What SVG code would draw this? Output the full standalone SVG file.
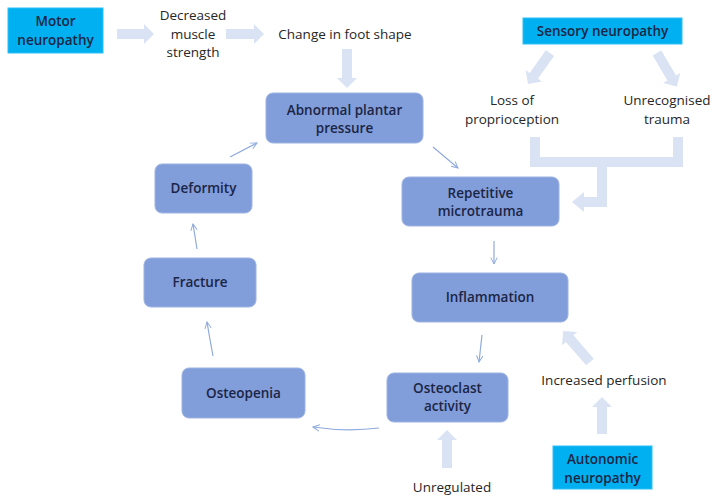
<svg xmlns="http://www.w3.org/2000/svg" width="716" height="503" viewBox="0 0 716 503">
<style>
.node rect{fill:#819DDA;stroke:#9DB3E3;stroke-width:1}
.src rect{fill:#00B0F0;stroke:#2CC0F5;stroke-width:1}
.nt{font-family:"Open Sans","Liberation Sans",sans-serif;font-size:13.5px;font-weight:600;fill:#1B2545;text-anchor:middle}
.pt{font-family:"Open Sans","Liberation Sans",sans-serif;font-size:13.5px;fill:#262626;text-anchor:middle}
.blk{fill:#DAE3F3}
.thin{fill:none;stroke:#8FAADC;stroke-width:1.2}
</style>
<defs>
<marker id="oh" viewBox="0 0 10 10" refX="9" refY="5" markerWidth="8" markerHeight="8" orient="auto" markerUnits="userSpaceOnUse">
<path d="M1,1 L9,5 L1,9" fill="none" stroke="#8FAADC" stroke-width="1.2"/>
</marker>
</defs>
<rect width="716" height="503" fill="#ffffff"/>

<g id="connectors">
<!-- block arrows -->
<polygon class="blk" transform="translate(117,34)" points="0,-5 27,-5 27,-10 37,0 27,10 27,5 0,5"/>
<polygon class="blk" transform="translate(226,34)" points="0,-5 28,-5 28,-10 38,0 28,10 28,5 0,5"/>
<polygon class="blk" transform="translate(347,49) rotate(90)" points="0,-5 29,-5 29,-10 39,0 29,10 29,5 0,5"/>
<polygon class="blk" transform="translate(550,53) rotate(125.4)" points="0,-5 28,-5 28,-10 38,0 28,10 28,5 0,5"/>
<polygon class="blk" transform="translate(657,53) rotate(59.5)" points="0,-5 29,-5 29,-10 39,0 29,10 29,5 0,5"/>
<polygon class="blk" transform="translate(590,362) rotate(229)" points="0,-5 31,-5 31,-10 41,0 31,10 31,5 0,5"/>
<polygon class="blk" transform="translate(602,434) rotate(-90)" points="0,-5 27,-5 27,-10 37,0 27,10 27,5 0,5"/>
<polygon class="blk" transform="translate(447,468) rotate(-90)" points="0,-5 28,-5 28,-10 38,0 28,10 28,5 0,5"/>
<polygon class="blk" points="530,137 540,137 540,157 673,157 673,137 683,137 683,167 607,167 607,207 584,207 584,212 572,202 584,192 584,197 597,197 597,167 530,167"/>
<!-- thin arrows -->
<path class="thin" marker-end="url(#oh)" d="M433,147 L458,168"/>
<path class="thin" marker-end="url(#oh)" d="M494,241 L494,264"/>
<path class="thin" marker-end="url(#oh)" d="M482,335 L479,362"/>
<path class="thin" marker-end="url(#oh)" d="M379,428 Q346,432 313,427"/>
<path class="thin" marker-end="url(#oh)" d="M213,356 Q210,340 207,322"/>
<path class="thin" marker-end="url(#oh)" d="M197,249 L193,224"/>
<path class="thin" marker-end="url(#oh)" d="M230,157 L257,143"/>
</g>

<g id="motor" class="src"><rect x="8" y="8" width="95" height="45"/><text class="nt" x="55.5" y="26">Motor</text><text class="nt" x="55.5" y="45">neuropathy</text></g>
<g id="decreased"><text class="pt" x="193" y="20">Decreased</text><text class="pt" x="193" y="39">muscle</text><text class="pt" x="193" y="57">strength</text></g>
<g id="change"><text class="pt" x="345" y="39">Change in foot shape</text></g>
<g id="sensory" class="src"><rect x="523" y="18" width="159" height="26"/><text class="nt" x="602.5" y="36">Sensory neuropathy</text></g>
<g id="loss"><text class="pt" x="512" y="105">Loss of</text><text class="pt" x="512" y="124">proprioception</text></g>
<g id="unrecognised"><text class="pt" x="667" y="105">Unrecognised</text><text class="pt" x="667" y="124">trauma</text></g>
<g id="abnormal" class="node"><rect x="266" y="93" width="157" height="50" rx="7"/><text class="nt" x="344.5" y="115">Abnormal plantar</text><text class="nt" x="344.5" y="133">pressure</text></g>
<g id="repetitive" class="node"><rect x="402" y="177" width="157" height="49" rx="7"/><text class="nt" x="480.5" y="198">Repetitive</text><text class="nt" x="480.5" y="216">microtrauma</text></g>
<g id="inflammation" class="node"><rect x="412" y="273" width="156" height="49" rx="7"/><text class="nt" x="490" y="302">Inflammation</text></g>
<g id="osteoclast" class="node"><rect x="387" y="373" width="121" height="49" rx="7"/><text class="nt" x="447.5" y="393">Osteoclast</text><text class="nt" x="447.5" y="411">activity</text></g>
<g id="osteopenia" class="node"><rect x="182" y="368" width="123" height="50" rx="7"/><text class="nt" x="243.5" y="398">Osteopenia</text></g>
<g id="fracture" class="node"><rect x="144" y="258" width="112" height="49" rx="7"/><text class="nt" x="200" y="287">Fracture</text></g>
<g id="deformity" class="node"><rect x="155" y="164" width="97" height="49" rx="7"/><text class="nt" x="203.5" y="193">Deformity</text></g>
<g id="perfusion"><text class="pt" x="604" y="385">Increased perfusion</text></g>
<g id="autonomic" class="src"><rect x="553" y="446" width="99" height="43"/><text class="nt" x="602.5" y="464">Autonomic</text><text class="nt" x="602.5" y="483">neuropathy</text></g>
<g id="unregulated"><text class="pt" x="452" y="492">Unregulated</text></g>
</svg>
